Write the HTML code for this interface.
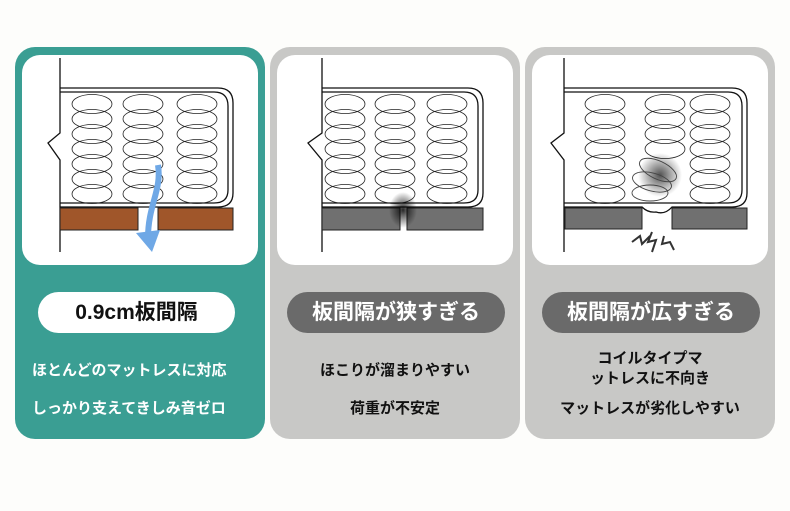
<!DOCTYPE html>
<html><head><meta charset="utf-8"><style>
html,body{margin:0;padding:0;background:#fdfdfb;}
body{width:790px;height:511px;position:relative;overflow:hidden;font-family:"Liberation Sans","Noto Sans CJK JP",sans-serif;}
.card{position:absolute;top:47px;width:250px;height:392px;border-radius:20px;}
.pill{position:absolute;top:245px;height:41px;border-radius:21px;font-size:21px;font-weight:bold;text-align:center;line-height:41px;}
.t{position:absolute;font-size:15px;font-weight:bold;white-space:nowrap;}
svg{position:absolute;left:0;top:0;}
</style></head><body>
<div class="card" style="left:15px;background:#3a9e93;">
  <div class="pill" style="left:23px;width:197px;background:#fff;color:#111;">0.9cm板間隔</div>
  <div class="t" style="left:17px;top:312px;color:#fff;">ほとんどのマットレスに対応</div>
  <div class="t" style="left:17px;top:350px;color:#fff;">しっかり支えてきしみ音ゼロ</div>
</div>
<div class="card" style="left:270px;background:#c8c8c6;">
  <div class="pill" style="left:17px;width:218px;background:#6a6a6a;color:#fff;">板間隔が狭すぎる</div>
  <div class="t" style="left:0;width:250px;text-align:center;top:312px;color:#111;">ほこりが溜まりやすい</div>
  <div class="t" style="left:0;width:250px;text-align:center;top:350px;color:#111;">荷重が不安定</div>
</div>
<div class="card" style="left:525px;background:#c8c8c6;">
  <div class="pill" style="left:17px;width:218px;background:#6a6a6a;color:#fff;">板間隔が広すぎる</div>
  <div class="t" style="left:0;width:250px;text-align:center;top:300px;color:#111;">コイルタイプマ</div>
  <div class="t" style="left:0;width:250px;text-align:center;top:320px;color:#111;">ットレスに不向き</div>
  <div class="t" style="left:0;width:250px;text-align:center;top:350px;color:#111;">マットレスが劣化しやすい</div>
</div>
<svg width="790" height="511" viewBox="0 0 790 511">
<defs>
  <g id="coil" fill="none" stroke="#222" stroke-width="0.8">
    <ellipse cx="0" cy="0" rx="20" ry="9.5"/><ellipse cx="0" cy="15" rx="20" ry="9.5"/>
    <ellipse cx="0" cy="30" rx="20" ry="9.5"/><ellipse cx="0" cy="45" rx="20" ry="9.5"/>
    <ellipse cx="0" cy="60" rx="20" ry="9.5"/><ellipse cx="0" cy="75" rx="20" ry="9.5"/>
    <ellipse cx="0" cy="90" rx="20" ry="9.5"/>
  </g>
  <radialGradient id="sh"><stop offset="0" stop-color="#000" stop-opacity="0.85"/><stop offset="1" stop-color="#000" stop-opacity="0"/></radialGradient>
</defs>
<rect x="22" y="55" width="236" height="210" rx="18" fill="#fff"/>
<rect x="277" y="55" width="236" height="210" rx="18" fill="#fff"/>
<rect x="532" y="55" width="236" height="210" rx="18" fill="#fff"/>
<g fill="none" stroke="#111" stroke-width="1.3">
  <path d="M60 58 V133 L48 143 L60 160 V252"/>
  <path d="M60 88 H218 Q233 88 233 103 V193 Q233 207 218 207 H60"/>
  <path d="M60 92 H214 Q228 92 228 106 V190 Q228 203 214 203 H60"/>
</g>
<use href="#coil" x="92" y="104"/><use href="#coil" x="143" y="104"/><use href="#coil" x="197" y="104"/>
<rect x="60" y="208" width="78" height="22" fill="#a0562a" stroke="#222"/>
<rect x="158" y="208" width="75" height="22" fill="#a0562a" stroke="#222"/>
<path d="M158 165 C162 190 148 205 148 238" stroke="#6fa8e6" stroke-width="6" fill="none"/>
<path d="M136 233 L152 252 L160 230 Z" fill="#6fa8e6"/>
<g fill="none" stroke="#111" stroke-width="1.3">
  <path d="M322 58 V133 L308 143 L322 160 V252"/>
  <path d="M322 88 H468 Q483 88 483 103 V193 Q483 207 468 207 H322"/>
  <path d="M322 92 H464 Q478 92 478 106 V190 Q478 203 464 203 H322"/>
</g>
<use href="#coil" x="345" y="104"/><use href="#coil" x="395" y="104"/><use href="#coil" x="447" y="104"/>
<rect x="322" y="208" width="78" height="22" fill="#707070" stroke="#222"/>
<rect x="407" y="208" width="76" height="22" fill="#707070" stroke="#222"/>
<ellipse cx="403" cy="210" rx="14" ry="18" fill="url(#sh)"/>
<g fill="none" stroke="#111" stroke-width="1.3">
  <path d="M564 58 V133 L551 143 L564 160 V252"/>
  <path d="M564 88 H732 Q747 88 747 103 V193 Q747 207 732 207 H672 Q665 215 656 212 Q648 213 642 207 H564"/>
  <path d="M564 92 H728 Q742 92 742 106 V190 Q742 203 728 203 H564"/>
</g>
<use href="#coil" x="605" y="104"/><use href="#coil" x="710" y="104"/>
<g fill="none" stroke="#222" stroke-width="0.8">
  <ellipse cx="665" cy="104" rx="20" ry="9.5"/><ellipse cx="665" cy="119" rx="20" ry="9.5"/>
  <ellipse cx="665" cy="134" rx="20" ry="9.5"/><ellipse cx="665" cy="149" rx="20" ry="9.5"/>
</g>
<ellipse cx="660" cy="175" rx="22" ry="22" fill="url(#sh)" opacity="0.8"/>
<g fill="none" stroke="#444" stroke-width="0.9">
  <ellipse cx="658" cy="170" rx="20" ry="9" transform="rotate(25 658 170)"/>
  <ellipse cx="652" cy="182" rx="20" ry="9" transform="rotate(15 652 182)"/>
  <ellipse cx="650" cy="193" rx="18" ry="8"/>
</g>
<rect x="565" y="208" width="77" height="21" fill="#707070" stroke="#222"/>
<rect x="672" y="208" width="75" height="21" fill="#707070" stroke="#222"/>
<g fill="none" stroke="#333" stroke-width="2">
  <path d="M632 242 L640 236 L642 244 L650 236"/>
  <path d="M652 232 L648 242 L656 240 L652 252"/>
  <path d="M664 236 L662 244 L670 242 L674 250"/>
</g>
</svg>
</body></html>
